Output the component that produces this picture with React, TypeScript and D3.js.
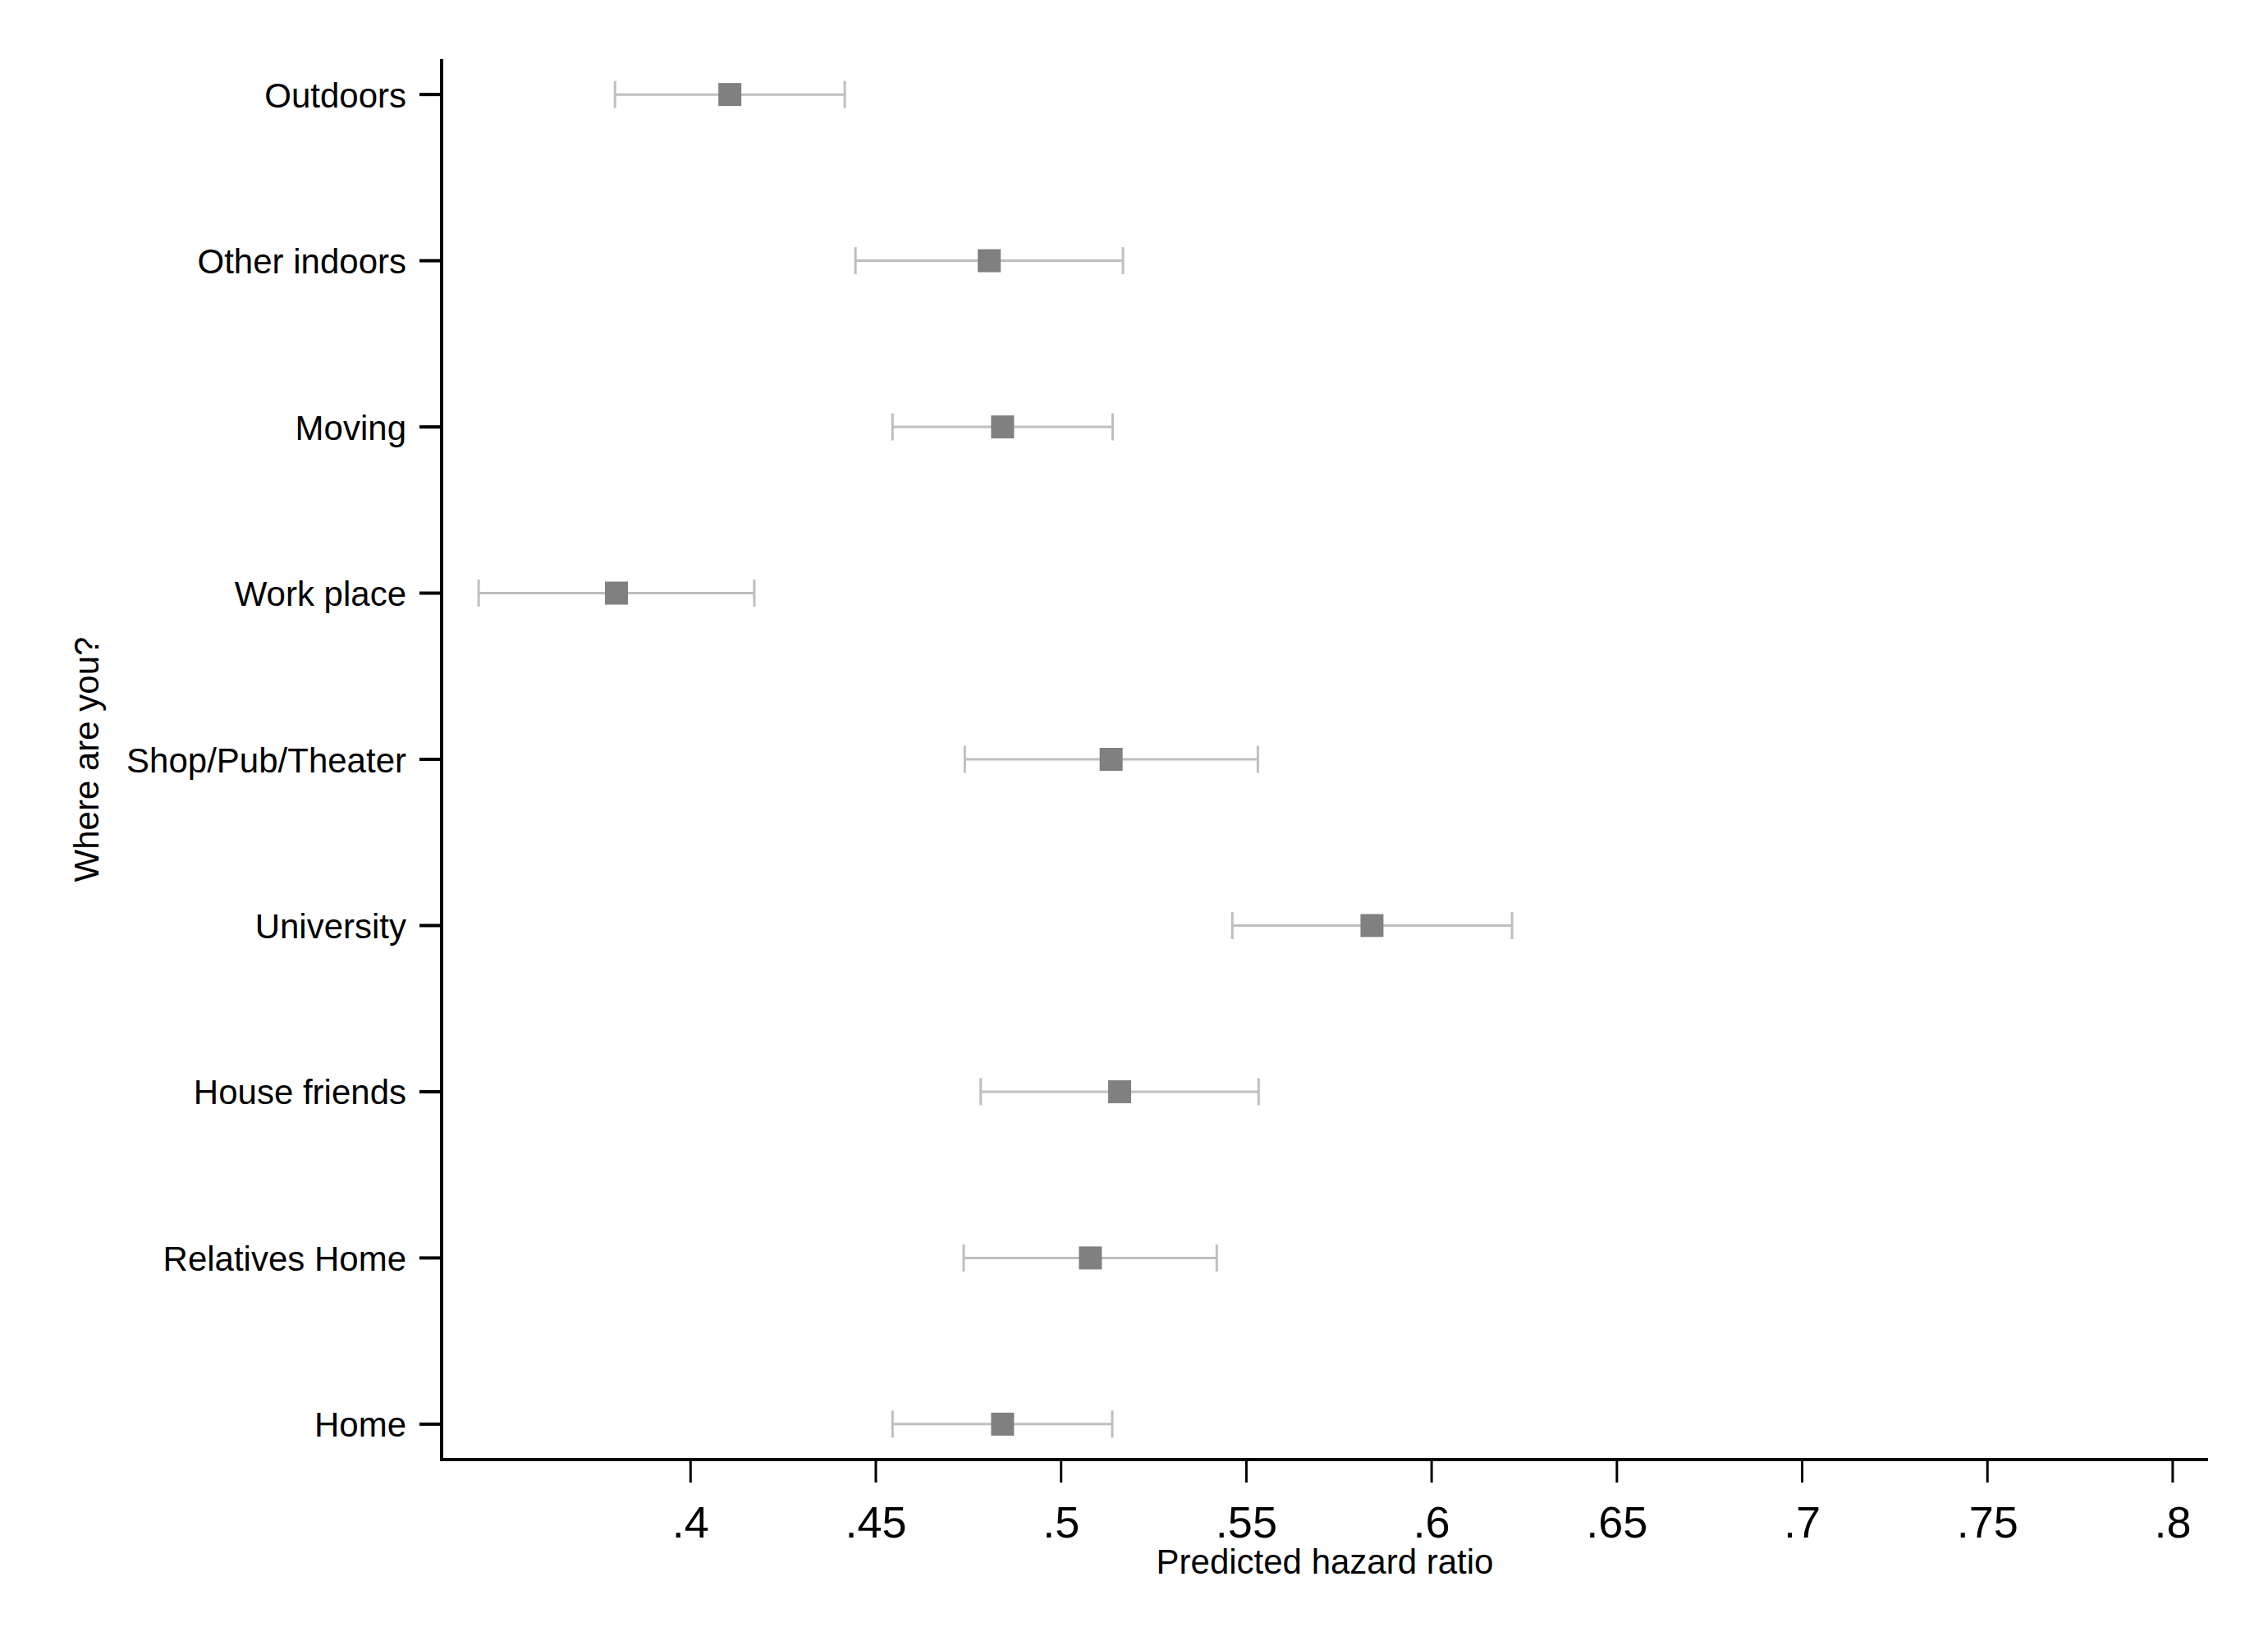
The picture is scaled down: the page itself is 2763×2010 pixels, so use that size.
import React from "react";
import * as d3 from "d3";

const categories = [
  "Outdoors",
  "Other indoors",
  "Moving",
  "Work place",
  "Shop/Pub/Theater",
  "University",
  "House friends",
  "Relatives Home",
  "Home",
];
const estimates = [0.4106, 0.4806, 0.4842, 0.38, 0.5135, 0.5839, 0.5158, 0.5079, 0.4842];
const lowerCI = [0.3796, 0.4445, 0.4545, 0.3428, 0.474, 0.5462, 0.4783, 0.4737, 0.4545];
const upperCI = [0.4416, 0.5167, 0.5139, 0.4172, 0.5531, 0.6217, 0.5533, 0.542, 0.5138];
const xTicks = [0.4, 0.45, 0.5, 0.55, 0.6, 0.65, 0.7, 0.75, 0.8];
const xTickLabels = [".4", ".45", ".5", ".55", ".6", ".65", ".7", ".75", ".8"];
const xTitle = "Predicted hazard ratio";
const yTitle = "Where are you?";

const W = 2763;
const H = 2010;
const plotLeft = 538;
const plotRight = 2690;
const plotTop = 72;
const plotBottom = 1778;
const FONT = "'Liberation Sans', Arial, Helvetica, sans-serif";

export default function App() {
  const x = d3.scaleLinear().domain([0.4, 0.8]).range([841.3, 2646.9]);
  const y = d3
    .scalePoint<string>()
    .domain(categories)
    .range([plotTop, plotBottom])
    .padding(0.213);

  const capH = 33;
  const sq = 28;

  return (
    <svg
      width={W}
      height={H}
      style={{ position: "absolute", left: 0, top: 0, background: "#fff" }}
      fontFamily={FONT}
    >
      <rect x={0} y={0} width={W} height={H} fill="#fff" />
      {/* error bars */}
      {categories.map((c, i) => {
        const yy = y(c)!;
        const x0 = x(lowerCI[i]);
        const x1 = x(upperCI[i]);
        return (
          <g key={c}>
            <line x1={x0} x2={x1} y1={yy} y2={yy} stroke="#bfbfbf" strokeWidth={3} />
            <line x1={x0} x2={x0} y1={yy - capH / 2} y2={yy + capH / 2} stroke="#bfbfbf" strokeWidth={3} />
            <line x1={x1} x2={x1} y1={yy - capH / 2} y2={yy + capH / 2} stroke="#bfbfbf" strokeWidth={3} />
            <rect x={x(estimates[i]) - sq / 2} y={yy - sq / 2} width={sq} height={sq} fill="#808080" />
          </g>
        );
      })}
      {/* y axis */}
      <line x1={plotLeft} x2={plotLeft} y1={plotTop} y2={plotBottom + 2} stroke="#000" strokeWidth={4} />
      {categories.map((c) => (
        <g key={"yt" + c}>
          <line x1={plotLeft - 27} x2={plotLeft} y1={y(c)!} y2={y(c)!} stroke="#000" strokeWidth={4} />
          <text
            x={plotLeft - 43}
            y={y(c)!}
            dy="0.37em"
            textAnchor="end"
            fontSize={42}
            fill="#000"
          >
            {c}
          </text>
        </g>
      ))}
      {/* x axis */}
      <line x1={plotLeft - 2} x2={plotRight} y1={plotBottom} y2={plotBottom} stroke="#000" strokeWidth={4} />
      {xTicks.map((t, i) => (
        <g key={"xt" + t}>
          <line x1={x(t)} x2={x(t)} y1={plotBottom} y2={plotBottom + 28} stroke="#000" strokeWidth={3} />
          <text x={x(t)} y={1873} textAnchor="middle" fontSize={54} fill="#000">
            {xTickLabels[i]}
          </text>
        </g>
      ))}
      <text x={(plotLeft + plotRight) / 2} y={1917} textAnchor="middle" fontSize={42} fill="#000">
        {xTitle}
      </text>
      <text
        transform={`translate(120, ${(plotTop + plotBottom) / 2}) rotate(-90)`}
        textAnchor="middle"
        fontSize={42}
        fill="#000"
      >
        {yTitle}
      </text>
    </svg>
  );
}
